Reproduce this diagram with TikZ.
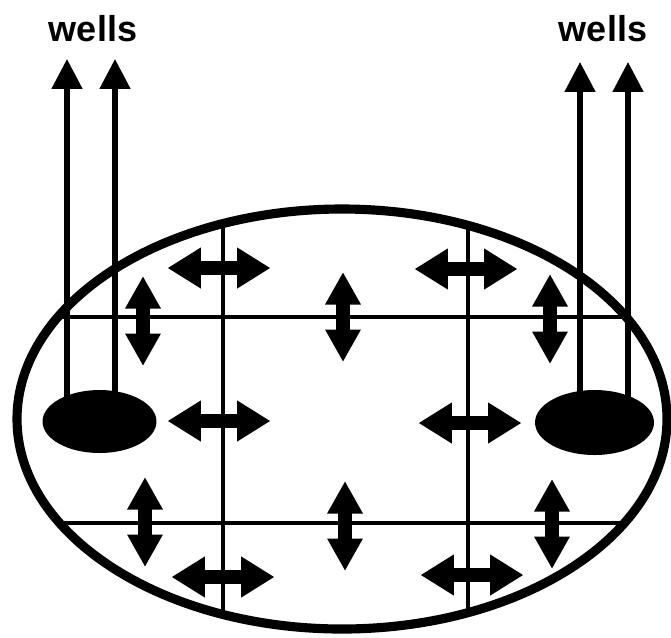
\documentclass[tikz,border=0pt]{standalone}
\usepackage{fontspec}
\setmainfont{Liberation Sans}
\usetikzlibrary{arrows.meta,shapes.geometric}

\begin{document}
\begin{tikzpicture}[x=0.02cm,y=-0.02cm,
  rim/.style={line width=5.2pt},
  gridline/.style={line width=2.6pt},
  well/.style={line width=2.9pt,-{Triangle[length=17pt,width=17pt]}},
  hflow/.style={line width=8.4pt,{Triangle[length=19pt,width=22pt]}-{Triangle[length=19pt,width=22pt]}},
  vflow/.style={line width=7.6pt,{Triangle[length=18.5pt,width=19pt]}-{Triangle[length=18.5pt,width=19pt]}},
  blob/.style={ellipse,fill=black,inner sep=0pt},
  lbl/.style={font=\fontsize{20.5}{24}\selectfont\bfseries,anchor=base,inner sep=0pt}]
\useasboundingbox (0,0) rectangle (671,637);
\begin{scope}
\clip (342,419) ellipse [x radius=325,y radius=210];
\draw[gridline] (0,317)--(671,317);
\draw[gridline] (0,523)--(671,523);
\draw[gridline] (223,0)--(223,637);
\draw[gridline] (468,0)--(468,637);
\end{scope}
\draw[rim] (342,419) ellipse [x radius=325,y radius=210];
\foreach \cx/\cy in {219/268,466/269,219/421,470/423,223/577,472/575}
  \draw[hflow] (\cx-51.5,\cy)--(\cx+51.5,\cy);
\foreach \cx/\cy in {143/321,343/317,550/319,145/522,345/526,552/524}
  \draw[vflow] (\cx,\cy+45)--(\cx,\cy-45);
\node[blob,minimum width=2.28cm,minimum height=1.26cm] (lwell) at (99.5,421.5) {};
\node[blob,minimum width=2.38cm,minimum height=1.3cm] (rwell) at (594.5,422.5) {};
\node[lbl] (ltext) at (93,41) {wells};
\node[lbl] (rtext) at (603,41) {wells};
\coordinate (la) at (67,59);
\coordinate (lb) at (115,59);
\coordinate (ra) at (580,62);
\coordinate (rb) at (628,62);
\draw[well] (la |- lwell.center) -- (la);
\draw[well] (lb |- lwell.center) -- (lb);
\draw[well] (ra |- rwell.center) -- (ra);
\draw[well] (rb |- rwell.center) -- (rb);
\end{tikzpicture}
\end{document}
